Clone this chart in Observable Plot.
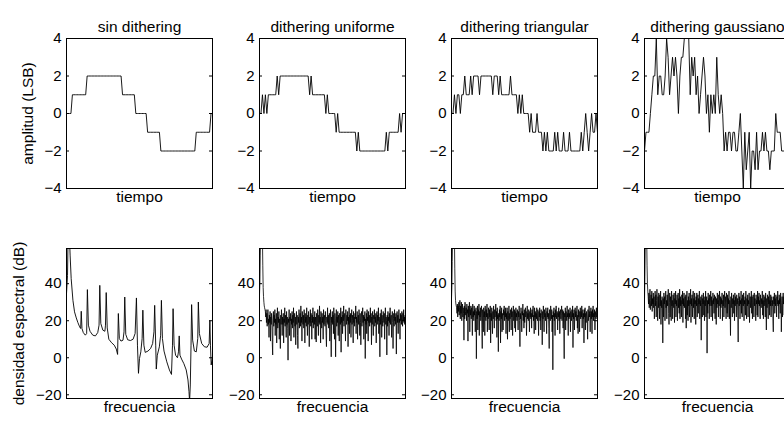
<!DOCTYPE html>
<html><head><meta charset="utf-8">
<script src="https://cdn.jsdelivr.net/npm/d3@7"></script>
<script src="https://cdn.jsdelivr.net/npm/@observablehq/plot@0.6"></script>
<style>
html,body{margin:0;padding:0;background:#fff;overflow:hidden;}
#fig{position:relative;width:800px;height:421px;overflow:hidden;}
#fig > div{position:absolute;}
</style></head><body><div id="fig"></div>
<script>
// ---- text ----
const titles = ["sin dithering", "dithering uniforme", "dithering triangular", "dithering gaussiano"];
const timeLabel = "tiempo";
const freqLabel = "frecuencia";
const yLabelTop = "amplitud (LSB)";
const yLabelBottom = "densidad espectral (dB)";
const ticksTop = [-4, -2, 0, 2, 4];
const ticksBottom = [-20, 0, 20, 40];
const domainTop = [-4, 4];
const domainBottom = [-22, 59];

// ---- time signals (LSB), 100 samples per period ----
const sigSin = [0,0,0,0,1,1,1,1,1,1,1,1,1,1,2,2,2,2,2,2,2,2,2,2,2,2,2,2,2,2,2,2,2,2,2,2,2,2,
  1,1,1,1,1,1,1,1,1,0,0,0,0,0,0,0,0,-1,-1,-1,-1,-1,-1,-1,-1,-1,
  -2,-2,-2,-2,-2,-2,-2,-2,-2,-2,-2,-2,-2,-2,-2,-2,-2,-2,-2,-2,-2,-2,-2,-2,
  -1,-1,-1,-1,-1,-1,-1,-1,-1,-1,0,0];
const sigUni = [0,0,1,0,1,0,1,1,1,1,1,1,2,1,2,2,2,2,2,2,2,2,2,2,2,2,2,2,2,2,2,2,2,2,1,2,
  1,1,1,1,1,1,1,1,1,0,1,0,0,0,0,0,-1,0,-1,-1,-1,-1,-1,-1,-1,-1,-1,-1,-1,-1,-2,-1,
  -2,-2,-2,-2,-2,-2,-2,-2,-2,-2,-2,-2,-2,-2,-2,-2,-2,-2,-1,-2,-1,-1,-1,-1,-1,-1,-1,0,-1,0,0,0];
const sigTri = [0,0,1,0,1,1,0,1,1,2,1,1,1,2,1,2,2,2,2,1,2,2,2,2,2,2,2,2,1,2,2,2,1,2,1,1,1,1,1,1,
  2,1,1,1,1,0,1,0,1,0,0,0,0,-1,0,-1,-1,-1,0,-1,-1,-1,-2,-1,-2,-1,-2,-2,-2,-2,-1,-2,-1,-2,-2,-2,
  -1,-2,-2,-2,-1,-2,-2,-2,-2,-2,-2,-2,-1,-2,-1,0,-1,-2,-1,0,-1,-1,0,-1];
const sigGau = [-2,-1,-1,-1,0,1,2,2,4,1,2,2,1,1,2,4,3,1,2,3,2,3,2,0,2,3,3,4,4,4,4,1,3,2,3,1,2,0,1,2,
  3,2,0,1,-1,1,0,1,0,3,1,0,1,0,-2,-1,-2,-1,-1,-2,-1,-1,-2,-2,-1,0,-2,-4,-1,-3,-2,-1,-4,-2,-2,-3,-1,-3,-2,-2,
  -1,-2,-1,-2,-2,-3,-2,-2,-2,0,-1,-1,-1,-2,-2,-2,-2,-2,-1,-1];

// ---- spectra (dB) ----
const specSinF = [0,0.007,0.0115,0.018,0.025,0.032,0.044,0.055,0.067,0.078,0.090,0.097,0.101,0.106,0.115,0.129,0.138,0.143,0.150,0.161,
  0.180,0.198,0.214,0.223,0.228,0.235,0.249,0.263,0.267,0.272,0.279,0.290,0.309,0.327,0.341,0.350,0.355,0.362,0.373,0.387,
  0.394,0.399,0.406,0.419,0.438,0.456,0.470,0.479,0.486,0.493,0.500,0.509,0.518,0.523,0.530,0.539,0.558,0.576,0.590,0.599,
  0.604,0.611,0.615,0.622,0.636,0.645,0.650,0.657,0.668,0.687,0.705,0.719,0.726,0.730,0.737,0.747,0.760,0.767,0.772,0.777,
  0.788,0.804,0.820,0.832,0.839,0.843,0.848,0.853,0.857,0.864,0.876,0.889,0.899,0.903,0.910,0.926,0.945,0.963,0.977,0.982,
  0.986,0.991,1.0];
const specSinDB = [34.6,44.5,70,70,55,42.7,31,24.8,21.5,19,16.7,15.8,25.1,15.8,13.6,12.2,13.1,36.8,17.6,14.3,
  12.2,11.8,13.6,17.6,39.1,18.5,14.9,14.3,17.6,35.2,16.1,10,8.1,6.8,4.7,1.8,23.9,10.4,9,9.5,
  14,32.8,12.6,9.7,9.3,10,13.1,32.3,6.8,-8.4,-0.4,3.2,10.4,25.7,6.8,2.9,3.6,5,7.7,14,
  28.3,6.8,-6.1,1.4,5.9,12.2,31,10.4,3.6,-2.2,-6.6,-9,6.8,26.5,6.8,1.4,0,3.2,11.8,1.4,
  -0.7,-3.2,-6.6,-12,-18.3,-23.7,-14.7,6.8,28.7,9.5,3.6,3.2,10.4,30.1,13.1,7.7,5.9,5.7,7.7,20.1,
  6.8,-3.9,0.5];
const specUni = [
  34,40,55,65,65,65,65,65,65,50, 38,33,30,28,27,26,25,22,26,19, 24,17,22,26,18,21,11,23,19,25,
  9,22,18,24,20,8,1.5,21,25,17, 23,19,26,12,21,18,24,8,20,27, 16,22,19,25,10,21,17,5,23,18,
  26,20,12,22,18,24,8,21,19,27, 17,23,20,11,25,18,22,16,-1.3,21, 19,26,12,22,20,24,9,21,18,25,
  16,23,19,27,11,21,24,17,22,7, 20,25,18,23,12,5,22,19,26,16, 21,24,17,28,19,22,9,25,20,18,
  23,16,26,21,8,24,19,22,17,27, 20,12,23,18,25,21,6,22,19,26, 17,24,20,10,23,19,27,16,22,21,
  18,25,10,22,19,8.5,24,20,17,26, 21,12,23,19,28,18,22,8,25,20, 16,24,19,22,10,26,18,21,23,17,
  25,20,12,6,22,19,27,18,23,16, 21,24,9,20,26,17,0.5,22,19,25, 18,23,13,27,20,10,24,21,0.5,19,
  26,17,22,19,25,12,23,20,9,24, 21,18,27,3,22,19,25,13,23,20, 28,17,22,24,19,9,26,21,18,23,
  20,25,6,22,18,27,13,23,19,24, 11,21,26,18,23,20,8,25,19,22, 17,24,21,28,13,22,19,25,10,21,
  23,18,26,20,12,24,19,7,22,25, 17,21,27,19,23,10,22,20,25,-0.4, 21,18,24,13,26,20,22,9,25,19,
  23,17,21,27,19,24,7,22,18,25, 20,12,23,21,26,17,22,19,24,8, 21,25,18,23,20,27,13,22,19,0.5,
  24,18,21,26,11,23,20,17,25,22, 19,24,10,21,27,18,22,20,1.5,23, 17,25,20,22,12,24,19,27,18,21,
  23,11,22,25,19,5,21,24,17,26, 20,22,18,24,2,21,25,19,23,13, 22,26,19,21,10,24,20,23,18,25,
  21,17,24,20,26,19,22,18,23,20];
const specTri = [
  32,38,52,65,65,65,65,65,65,48, 36,31,29,28,27,24,29,22,28,25, 30,23,27,31,21,28,24,30,20,26,
  29,22,27,24,9.5,28,21,30,25,23, 27,20,29,24,26,9,28,22,25,30, 14,26,23,28,21,27,24,12,29,22,
  25,20,28,23,26,14,24,27,-0.5,25, 21,28,15,26,23,29,12,25,22,27, 20,24,28,16,5,26,23,14,27,22,
  25,12,28,23,20,26,22,29,14,24, 21,27,23,15,26,22,28,8,24,20, 27,22,13,25,21,28,23,16,26,22,
  24,29,20,25,11,27,21,23,3.3,24, 20,26,22,28,8,25,21,27,14,24, 22,15,26,23,28,20,25,22,27,13,
  24,21,27,10,25,20,23,28,14,24, 21,26,23,15,27,22,25,12,24,28, 20,23,26,16,25,14,27,22,24,20,
  26,23,15,25,22,28,20,6,24,21, 27,22,14,25,23,29,20,24,16,26, 19,24,27,22,25,12,23,28,21,24,
  20,26,23,14,25,22,27,21,24,16, 26,22,25,28,20,23,13,27,22,25, 15,24,21,27,23,20,26,22,12,25,
  22,27,20,24,15,26,23,21,7,25, 21,28,23,14,26,22,24,20,27,23, 13,25,22,27,21,24,16,5,26,23,
  20,28,24,21,26,14,23,-6.5,25,22, 27,20,24,12,26,22,28,21,23,25, 15,24,22,27,20,25,13,23,26,21,
  24,28,20,23,26,16,25,14,-0.5,24, 22,27,15,25,23,20,28,22,24,12, 26,21,24,22,27,14,25,23,20,26,
  22,28,5.5,24,21,26,15,23,27,22, 25,20,24,28,16,23,13,26,22,25, 14,24,27,21,25,22,28,16,23,26,
  21,24,8,26,22,27,15,24,19,25, 23,21,10,26,20,24,28,22,25,14, 24,27,21,25,13,26,22,28,20,24,
  22,26,15,25,23,21,27,22,24,23];
const specGau = [
  31,44,60,65,65,65,65,50,40,36, 33,29,35,27,32,37,26,31,34,28, 36,25,32,29,35,27,33,21,30,36,
  28,34,22,31,37,29,20,33,27,35, 30,21,34,28,36,18,31,27,33,29, 8,32,22,35,29,33,20,30,36,27,
  31,21,34,28,32,37,24,18,30,35, 22,33,29,20,36,28,31,21,34,30, 27,35,19,32,29,36,22,31,28,34,
  20,30,35,27,32,24,37,21,33,28, 31,22,34,29,36,19,32,28,35,27, 30,33,21,34,16,29,36,23,31,20,
  33,28,35,22,31,29,37,19,32,28, 34,22,30,36,27,32,21,35,29,31, 18,33,28,35,22,30,34,24,32,29,
  36,21,31,28,33,9.5,30,34,22,32, 29,35,23,31,20,33,28,36,22,30, 33,2.5,31,24,35,29,32,21,34,28,
  30,36,22,33,28,31,20,35,29,32, 24,34,30,21,33,29,18,32,27,35, 29,31,22,34,28,36,30,21,33,27,
  32,29,35,20,31,28,34,22,30,36, 27,33,29,21,35,30,24,34,22,32, 29,36,21,31,28,12,33,27,35,30,
  22,32,29,34,24,31,20,35,28,33, 30,22,34,29,32,23,8.5,31,35,28, 33,21,31,29,36,24,32,22,34,30,
  28,35,20,31,29,33,23,36,30,21, 32,28,34,22,31,29,35,19,30,33, 27,31,36,24,33,21,30,34,29,22,
  35,28,32,30,20,34,29,31,23,36, 22,33,29,35,28,31,21,34,30,27, 32,29,36,23,31,21,34,28,30,33,
  22,35,29,15,32,27,34,30,21,33, 29,36,23,31,28,34,22,30,33,28, 31,21,14,33,29,35,24,32,28,34,
  30,22,33,29,36,28,31,21,34,29, 32,24,35,30,14,28,33,22,31,35, 29,33,23,32,20,34,30,28,35,29,
  31,23,33,30,28,34,29,32,30,31];

// ---- layout ----
const frameLefts = [66, 258.5, 451, 643.5];
const frameW = 146, frameH = 150;
const rowTops = [38, 247.5];
const mL = 66, mR = 4, mT = 40, mB = 32;
const font = "'Liberation Sans', Arial, Helvetica, sans-serif";

const fig = document.getElementById("fig");

function panel({col, row, data, xDomain, yDomain, ticks, title, xlabel, ylabel, ylabelDx, lineWidth}) {
  const marks = [
    Plot.frame({stroke: "black", strokeWidth: 1}),
    Plot.tickY(ticks, {y: d => d, insetRight: frameW - 3, stroke: "black", strokeWidth: 1}),
    Plot.tickY(ticks, {y: d => d, insetLeft: frameW - 3, stroke: "black", strokeWidth: 1}),
    Plot.line(data, {x: "x", y: "y", stroke: "black", strokeWidth: lineWidth, clip: true}),
    Plot.text([xlabel], {text: d => d, frameAnchor: "bottom", dy: 13, fontSize: 15.5, fill: "black"})
  ];
  if (title) marks.push(Plot.text([title], {text: d => d, frameAnchor: "top", dy: -18, fontSize: 15.5, fill: "black"}));
  if (ylabel) marks.push(Plot.text([ylabel], {text: d => d, frameAnchor: "left", textAnchor: "middle", dx: ylabelDx, rotate: -90, fontSize: 15.5, fill: "black"}));
  const p = Plot.plot({
    width: mL + frameW + mR,
    height: mT + frameH + mB,
    marginLeft: mL, marginRight: mR, marginTop: mT, marginBottom: mB,
    style: `background:transparent;font-family:${font};font-size:15px;color:black;overflow:visible;`,
    x: {domain: xDomain, axis: null},
    y: {domain: yDomain, ticks: ticks, tickSize: 0, tickPadding: 5, label: null},
    marks
  });
  const wrap = document.createElement("div");
  wrap.style.left = (frameLefts[col] - mL) + "px";
  wrap.style.top = (rowTops[row] - mT) + "px";
  wrap.appendChild(p);
  fig.appendChild(wrap);
}

const topSignals = [sigSin, sigUni, sigTri, sigGau];
topSignals.forEach((s, c) => {
  panel({
    col: c, row: 0,
    data: s.map((v, i) => ({x: i, y: v})),
    xDomain: [0, s.length - 1], yDomain: domainTop, ticks: ticksTop,
    title: titles[c], xlabel: timeLabel,
    ylabel: c === 0 ? yLabelTop : null, ylabelDx: -38, lineWidth: 0.9
  });
});

const bottomData = [
  specSinF.map((f, i) => ({x: f, y: specSinDB[i]})),
  specUni.map((v, i) => ({x: i / (specUni.length - 1), y: v})),
  specTri.map((v, i) => ({x: i / (specTri.length - 1), y: v})),
  specGau.map((v, i) => ({x: i / (specGau.length - 1), y: v}))
];
bottomData.forEach((d, c) => {
  panel({
    col: c, row: 1,
    data: d,
    xDomain: [0, 1], yDomain: domainBottom, ticks: ticksBottom,
    title: null, xlabel: freqLabel,
    ylabel: c === 0 ? yLabelBottom : null, ylabelDx: -47, lineWidth: c === 0 ? 0.9 : 0.8
  });
});
</script></body></html>
